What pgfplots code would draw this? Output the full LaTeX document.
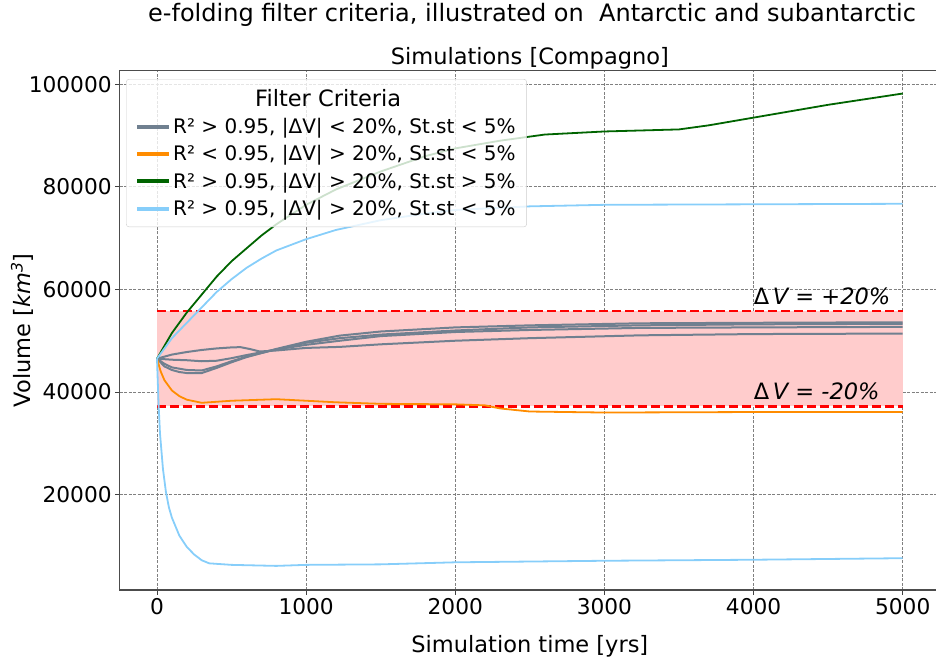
\documentclass[border=0pt]{standalone}
\usepackage{fontspec}
\setmainfont{DejaVu Sans}
\usepackage{pgfplots}
\pgfplotsset{compat=1.18}
\definecolor{slategray}{HTML}{708090}
\definecolor{darkorange}{HTML}{FF8C00}
\definecolor{dkgreen}{HTML}{006400}
\definecolor{lskyblue}{HTML}{87CEFA}
\definecolor{pinkfill}{HTML}{FFCCCC}
\begin{document}
\begin{tikzpicture}
\path[use as bounding box] (0,0) rectangle (936pt,664pt);
\node[font=\fontsize{24}{29}\selectfont, anchor=center] at (532pt,649pt) {e-folding filter criteria, illustrated on\ \ Antarctic and subantarctic};
\begin{axis}[
  at={(119.7pt,74pt)}, anchor=south west,
  scale only axis, width=820.3pt, height=519.3pt,
  xmin=-250, xmax=5250, ymin=1400, ymax=102650,
  xtick={0,1000,2000,3000,4000,5000},
  ytick={20000,40000,60000,80000,100000},
  scaled ticks=false,
  /pgf/number format/fixed,
  /pgf/number format/precision=0,
  /pgf/number format/set thousands separator={},
  /pgf/number format/assume math mode=true,
  xticklabel={\pgfmathprintnumber{\tick}},
  yticklabel={\pgfmathprintnumber{\tick}},
  tick label style={font=\fontsize{21.7}{26}\selectfont},
  label style={font=\fontsize{22.5}{27}\selectfont},
  tick align=outside, tick pos=left, major tick length=4.5pt,
  tick style={black!75, line width=0.9pt},
  grid=major, grid style={gray, dash pattern=on 3pt off 1.5pt, line width=0.8pt},
  axis line style={black!70, line width=1.1pt},
  xlabel={Simulation time [yrs]},
  ylabel={Volume [\textit{km}\textsuperscript{\textit{3}}]},
  xlabel style={at={(axis description cs:0.5,-0.108)}, anchor=center},
  ylabel style={at={(axis description cs:-0.119,0.5)}, anchor=center},
  title={Simulations [Compagno]},
  title style={font=\fontsize{22.5}{27}\selectfont, at={(axis description cs:0.5,1)}, anchor=center, yshift=6pt},
  legend style={at={(0.0077,0.984)}, anchor=north west, draw=black!20, rounded corners=3pt,
    fill=white, fill opacity=0.8, text opacity=1, font=\fontsize{20}{24}\selectfont,
    inner xsep=9pt, inner ysep=8pt, row sep=6.5pt},
  legend cell align=left,
  legend image code/.code={\draw[#1, line width=4pt] (0pt,0pt) -- (32pt,0pt);},
]
% band
\addplot[fill=pinkfill, draw=none, forget plot] coordinates {(0,37200) (5000,37200) (5000,55800) (0,55800)} -- cycle;
\addplot[red, line width=2.5pt, dash pattern=on 9pt off 4pt, forget plot] coordinates {(0,55800) (5000,55800)};
\addplot[red, line width=2.5pt, dash pattern=on 9pt off 4pt, forget plot] coordinates {(0,37200) (5000,37200)};
% gray
\addplot[slategray, line width=2pt, forget plot] coordinates {(0,46500) (100,47300) (200,47800) (300,48200) (400,48500) (500,48700) (560,48750) (620,48400) (690,47900) (800,48100) (1000,48600) (1226,48800) (1500,49300) (2000,50000) (2500,50500) (3237,51050) (4000,51300) (5000,51400)};
\addplot[slategray, line width=2pt, forget plot] coordinates {(0,46500) (100,46300) (200,46200) (300,46000) (400,46100) (500,46600) (600,47200) (800,48300) (1000,49200) (1226,50000) (1500,50900) (2000,51700) (2500,52100) (3237,52500) (4000,52600) (5000,52700)};
\addplot[slategray, line width=2pt, forget plot] coordinates {(0,46500) (50,45000) (100,44300) (150,43900) (200,43700) (300,43700) (400,44700) (500,45800) (600,46800) (800,48400) (1000,49800) (1226,51000) (1500,51800) (2000,52600) (2500,53000) (3237,53400) (4000,53500) (5000,53600)};
\addplot[slategray, line width=2pt, forget plot] coordinates {(0,46500) (50,45500) (100,44800) (200,44300) (300,44200) (400,45000) (500,46000) (600,46900) (800,48300) (1000,49600) (1226,50500) (1500,51200) (2000,52000) (2500,52600) (3237,53000) (4000,53200) (5000,53300)};
% orange
\addplot[darkorange, line width=1.8pt, forget plot] coordinates {(0,46500) (25,44000) (50,42300) (100,40300) (150,39200) (200,38500) (300,37900) (500,38300) (800,38600) (1000,38300) (1200,38000) (1500,37700) (2000,37600) (2200,37400) (2300,36800) (2500,36200) (3000,36000) (4000,36100) (5000,36100)};
% green
\addplot[dkgreen, line width=1.8pt, forget plot] coordinates {(0,46500) (100,51500) (200,55500) (300,59000) (400,62500) (500,65500) (600,68000) (700,70500) (800,72700) (1000,76500) (1200,79500) (1500,83000) (1800,86000) (2000,87500) (2300,89000) (2600,90200) (3000,90800) (3500,91200) (3700,92000) (4000,93500) (4500,96000) (5000,98200)};
% blue upper
\addplot[lskyblue, line width=1.8pt, forget plot] coordinates {(0,46500) (100,50500) (200,53500) (300,56500) (400,59500) (500,62000) (600,64200) (700,66000) (800,67600) (1000,69800) (1200,71600) (1500,73500) (1800,74800) (2000,75500) (2500,76200) (3000,76500) (4000,76600) (5000,76700)};
% blue lower
\addplot[lskyblue, line width=1.8pt, forget plot] coordinates {(0,46500) (10,38000) (20,32000) (40,25000) (60,20500) (80,17500) (100,15500) (150,12000) (200,9800) (250,8300) (300,7200) (350,6600) (500,6300) (800,6100) (1000,6300) (1500,6400) (2000,6800) (3000,7100) (4000,7300) (5000,7600)};
% annotations
\node[anchor=base west, inner sep=0pt, font=\fontsize{22.5}{27}\selectfont] at (axis cs:4000,57000) {Δ\,\textit{V = +20\%}};
\node[anchor=base west, inner sep=0pt, font=\fontsize{22.5}{27}\selectfont] at (axis cs:4000,38500) {Δ\,\textit{V = -20\%}};
% legend
\addlegendimage{empty legend}
\addlegendentry{\hspace{82pt}\fontsize{22.5}{27}\selectfont Filter Criteria}
\addlegendimage{slategray}
\addlegendentry{R² > 0.95, |ΔV| < 20\%, St.st < 5\%}
\addlegendimage{darkorange}
\addlegendentry{R² < 0.95, |ΔV| > 20\%, St.st < 5\%}
\addlegendimage{dkgreen}
\addlegendentry{R² > 0.95, |ΔV| > 20\%, St.st > 5\%}
\addlegendimage{lskyblue}
\addlegendentry{R² > 0.95, |ΔV| > 20\%, St.st < 5\%}
\end{axis}
\end{tikzpicture}
\end{document}
